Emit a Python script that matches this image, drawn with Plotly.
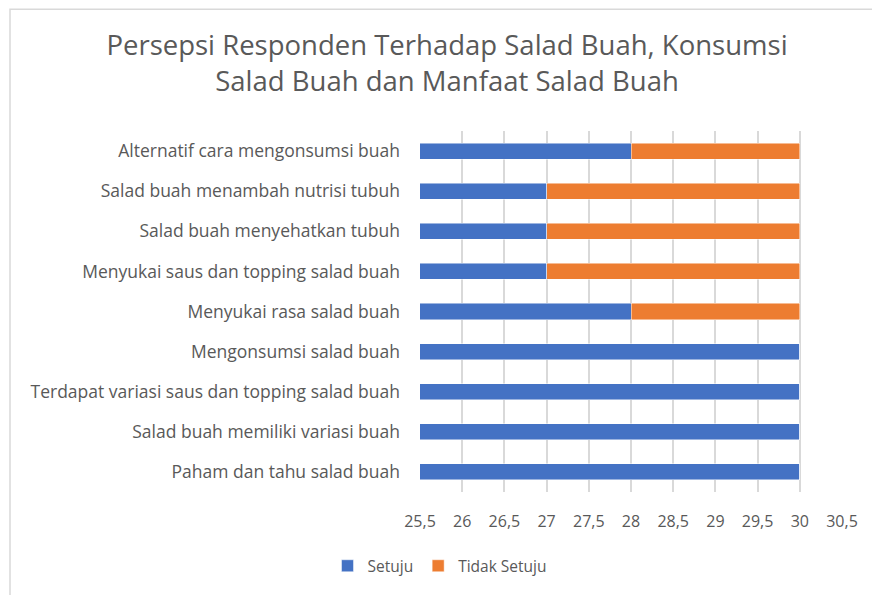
import plotly.graph_objects as go

categories = [
    "Paham dan tahu salad buah",
    "Salad buah memiliki variasi buah",
    "Terdapat variasi saus dan topping salad buah",
    "Mengonsumsi salad buah",
    "Menyukai rasa salad buah",
    "Menyukai saus dan topping salad buah",
    "Salad buah menyehatkan tubuh",
    "Salad buah menambah nutrisi tubuh",
    "Alternatif cara mengonsumsi buah",
]
setuju = [30, 30, 30, 30, 28, 27, 27, 27, 28]
tidak_setuju = [0, 0, 0, 0, 2, 3, 3, 3, 2]
tick_vals = [25.5, 26, 26.5, 27, 27.5, 28, 28.5, 29, 29.5, 30, 30.5]
tick_text = ["25,5", "26", "26,5", "27", "27,5", "28", "28,5", "29", "29,5", "30", "30,5"]

FONT = "Open Sans"
GREY = "#595959"

fig = go.Figure()
fig.add_trace(go.Bar(y=categories, x=setuju, orientation="h", name="Setuju",
                     marker=dict(color="#4472C4", line=dict(color="rgba(255,255,255,0.6)", width=0.8))))
fig.add_trace(go.Bar(y=categories, x=tidak_setuju, orientation="h", name="Tidak Setuju",
                     marker=dict(color="#ED7D31", line=dict(color="rgba(255,255,255,0.6)", width=0.8))))

W, H = 872, 595
L, R, T, B = 420, 30, 131, 99
pw, ph = W - L - R, H - T - B

def px_x(x):
    return (x - L) / pw

def px_y(y):
    return (H - B - y) / ph

fig.update_layout(
    width=W, height=H,
    margin=dict(l=L, r=R, t=T, b=B),
    barmode="stack",
    bargap=0.6,
    paper_bgcolor="white",
    plot_bgcolor="white",
    font=dict(family=FONT, color=GREY, size=15),
    title=dict(
        text="Persepsi Responden Terhadap Salad Buah, Konsumsi<br>Salad Buah dan Manfaat Salad Buah",
        x=447 / W, xanchor="center",
        y=1 - 55 / H, yanchor="top",
        font=dict(family=FONT, size=27.5, color=GREY),
    ),
    xaxis=dict(
        range=[25.5, 30.5],
        tickvals=tick_vals, ticktext=tick_text,
        showgrid=True, gridcolor="#d9d9d9", gridwidth=1.5,
        zeroline=False, showline=False,
        ticks="outside", ticklen=15, tickcolor="rgba(0,0,0,0)",
        tickfont=dict(size=16, color=GREY),
        fixedrange=True,
    ),
    yaxis=dict(
        type="category",
        showgrid=False, showline=False, zeroline=False,
        tickfont=dict(size=17.5, color=GREY),
        ticklabelstandoff=19,
    ),
    showlegend=True,
    legend=dict(
        orientation="h",
        x=px_x(440), xanchor="center",
        y=px_y(571), yanchor="middle",
        font=dict(size=15.5, color=GREY),
        traceorder="normal",
        itemwidth=30,
    ),
    shapes=[
        dict(type="rect", xref="paper", yref="paper",
             x0=px_x(10), x1=px_x(900), y0=px_y(620), y1=px_y(8),
             line=dict(color="#d9d9d9", width=1.5), fillcolor="rgba(0,0,0,0)", layer="below"),
    ],
)

fig.write_html("out.html")
